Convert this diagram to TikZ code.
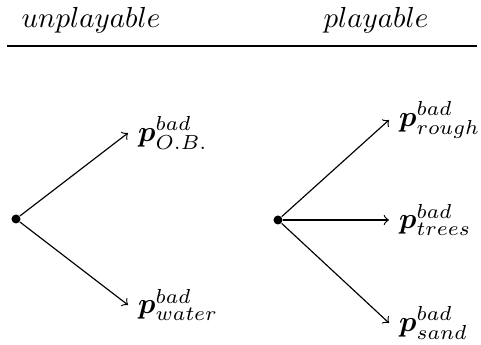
\documentclass[tikz,border=0pt]{standalone}
\usepackage{xcolor}
\usepackage{amsmath}
\usepackage{amssymb}
\usepackage{tikz}
\usetikzlibrary{arrows}
\usetikzlibrary{positioning}

\begin{document}
\begin{tikzpicture}[x=0.345pt,y=0.345pt]
\useasboundingbox (0,0) rectangle (481,345);
\node at (91,325) (U) {$unplayable$};
\node at (376,325) (P) {$playable$};
\coordinate (RL) at (7,299);
\coordinate (RR) at (477,299);
\draw[line width=0.7pt] (RL) -- (RR);
\node[circle,fill,inner sep=1.1pt] at (16,126) (A) {};
\node[anchor=west] at (128,212) (OB) {$\boldsymbol{p}^{bad}_{O.B.}$};
\node[anchor=west] at (128,40) (W) {$\boldsymbol{p}^{bad}_{water}$};
\node[circle,fill,inner sep=1.1pt] at (278,125) (B) {};
\node[anchor=west] at (389,225) (R) {$\boldsymbol{p}^{bad}_{rough}$};
\node[anchor=west] at (389,125) (T) {$\boldsymbol{p}^{bad}_{trees}$};
\node[anchor=west] at (389,22) (S) {$\boldsymbol{p}^{bad}_{sand}$};
\path[->] (A) edge (OB.west);
\path[->] (A) edge (W.west);
\path[->] (B) edge (R.west);
\path[->] (B) edge (T.west);
\path[->] (B) edge (S.west);
\end{tikzpicture}
\end{document}
